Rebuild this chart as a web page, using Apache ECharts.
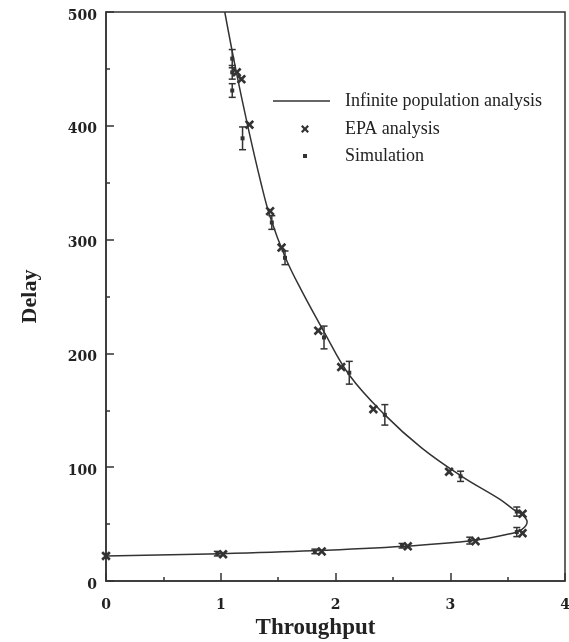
<!DOCTYPE html>
<html><head><meta charset="utf-8">
<script src="https://cdn.jsdelivr.net/npm/echarts@6/dist/echarts.min.js"></script>
<style>html,body{margin:0;padding:0;background:#fff}#c{width:569px;height:642px}</style>
</head><body><div id="c"></div>
<script>
// Infinite population analysis curve (throughput, delay)
const curveX = [0, 1.0, 1.8, 2.6, 3.2, 3.5, 3.62, 3.67, 3.63, 3.55, 3.43, 3.1, 2.75, 2.43, 2.12, 1.9, 1.7, 1.56, 1.43, 1.35, 1.235, 1.13, 1.035];
const curveY = [22, 24, 26.5, 30.5, 35.5, 41, 45, 52, 58, 63, 72, 92, 117, 146, 181, 219, 256, 285, 320, 350, 400, 450, 500];
// EPA analysis points
const epaX = [0, 1.02, 1.88, 2.63, 3.22, 3.63, 3.63, 2.99, 2.33, 2.05, 1.85, 1.53, 1.43, 1.25, 1.18, 1.14];
const epaY = [22, 23.5, 26, 30.5, 35, 42, 59, 96, 151, 188, 220, 293, 325, 401, 441, 447];
// Simulation points with error half-widths
const simX = [0, 0.97, 1.82, 2.58, 3.17, 3.58, 3.58, 3.09, 2.43, 2.12, 1.90, 1.56, 1.445, 1.19, 1.10, 1.10, 1.10];
const simY = [22, 24, 26, 31, 35.5, 43, 61, 92, 146, 183, 214, 284, 315, 389, 431, 447, 459];
const simErr = [2, 2, 2, 2, 3, 4, 4, 4.5, 9, 10, 10, 6, 6, 10, 6, 6, 8];
// Axis labels
const xTicks = [0, 1, 2, 3, 4];
const yTicks = [0, 100, 200, 300, 400, 500];

const C = '#333';
const SERIF = '"Liberation Serif", "DejaVu Serif", serif';
const WIDE = '"DejaVu Serif", "Liberation Serif", serif';
const curveData = curveX.map((x, i) => [x, curveY[i]]);
const epaData = epaX.map((x, i) => [x, epaY[i]]);
const simData = simX.map((x, i) => [x, simY[i]]);
const errData = simX.map((x, i) => [x, simY[i] - simErr[i], simY[i] + simErr[i]]);
const xMark = 'path://M0,2 L2,0 L5,3 L8,0 L10,2 L7,5 L10,8 L8,10 L5,7 L2,10 L0,8 L3,5 Z';

const chart = echarts.init(document.getElementById('c'), null, {renderer: 'canvas'});
const axisCommon = {
  type: 'value',
  axisLine: {show: true, lineStyle: {color: C, width: 1.5}},
  axisTick: {show: true, inside: true, length: 8, lineStyle: {color: C, width: 1.5}},
  minorTick: {show: true, splitNumber: 2, length: 4, lineStyle: {color: C, width: 1.5}},
  splitLine: {show: false},
  axisLabel: {fontFamily: WIDE, fontWeight: 'bold', fontSize: 14, color: '#222'},
  nameLocation: 'middle',
  nameTextStyle: {fontFamily: SERIF, fontWeight: 'bold', fontSize: 22, color: '#222'}
};
chart.setOption({
  animation: false,
  backgroundColor: '#fff',
  grid: {left: 106, right: 4, top: 12, bottom: 61, show: true, borderColor: C, borderWidth: 1.5,
         backgroundColor: 'transparent', outerBoundsMode: 'none', containLabel: false},
  xAxis: Object.assign({}, axisCommon, {
    min: 0, max: 4, interval: 1, name: 'Throughput', nameGap: 35,
    nameTextStyle: Object.assign({}, axisCommon.nameTextStyle, {fontSize: 23, padding: [0, 40, 0, 0]}),
    axisLabel: Object.assign({}, axisCommon.axisLabel, {margin: 17, formatter: v => xTicks.includes(v) ? String(v) : ''})
  }),
  yAxis: Object.assign({}, axisCommon, {
    min: 0, max: 500, interval: 100, name: 'Delay', nameGap: 65,
    axisLabel: Object.assign({}, axisCommon.axisLabel, {margin: 9, verticalAlign: 'top', lineHeight: 8,
      formatter: v => yTicks.includes(v) ? String(v) : ''})
  }),
  legend: [
    {data: [{name: 'Infinite population analysis', icon: 'rect'}], left: 268, top: 87, itemWidth: 57, itemHeight: 1.5, selectedMode: false,
     itemStyle: {color: C}, textStyle: {fontFamily: SERIF, fontSize: 18, color: '#222', padding: [0, 0, 0, 10]}},
    {data: ['EPA analysis'], left: 296, top: 115, itemWidth: 8, itemHeight: 8, selectedMode: false,
     textStyle: {fontFamily: SERIF, fontSize: 18, color: '#222', padding: [0, 0, 0, 31]}},
    {data: ['Simulation'], left: 298, top: 142, itemWidth: 4, itemHeight: 4, selectedMode: false,
     textStyle: {fontFamily: SERIF, fontSize: 18, color: '#222', padding: [0, 0, 0, 33]}}
  ],
  series: [
    {name: 'Infinite population analysis', type: 'line', data: curveData, smooth: 0.4, symbol: 'none',
     lineStyle: {color: C, width: 1.5}, itemStyle: {color: C}, z: 2},
    {name: 'EPA analysis', type: 'scatter', data: epaData, symbol: xMark, symbolSize: 9.5,
     itemStyle: {color: C, opacity: 1}, z: 4},
    {name: 'Simulation', type: 'scatter', data: simData, symbol: 'rect', symbolSize: 4,
     itemStyle: {color: C, opacity: 1}, z: 4},
    {name: 'errbar', type: 'custom', data: errData, encode: {x: 0, y: [1, 2]}, z: 3,
     renderItem: function (params, api) {
       const x = api.value(0), lo = api.value(1), hi = api.value(2);
       const p1 = api.coord([x, hi]), p2 = api.coord([x, lo]);
       const w = 3.5, st = {stroke: C, lineWidth: 1.5};
       return {type: 'group', children: [
         {type: 'line', shape: {x1: p1[0], y1: p1[1], x2: p2[0], y2: p2[1]}, style: st},
         {type: 'line', shape: {x1: p1[0] - w, y1: p1[1], x2: p1[0] + w, y2: p1[1]}, style: st},
         {type: 'line', shape: {x1: p2[0] - w, y1: p2[1], x2: p2[0] + w, y2: p2[1]}, style: st}
       ]};
     }}
  ]
});
</script>
</body></html>
